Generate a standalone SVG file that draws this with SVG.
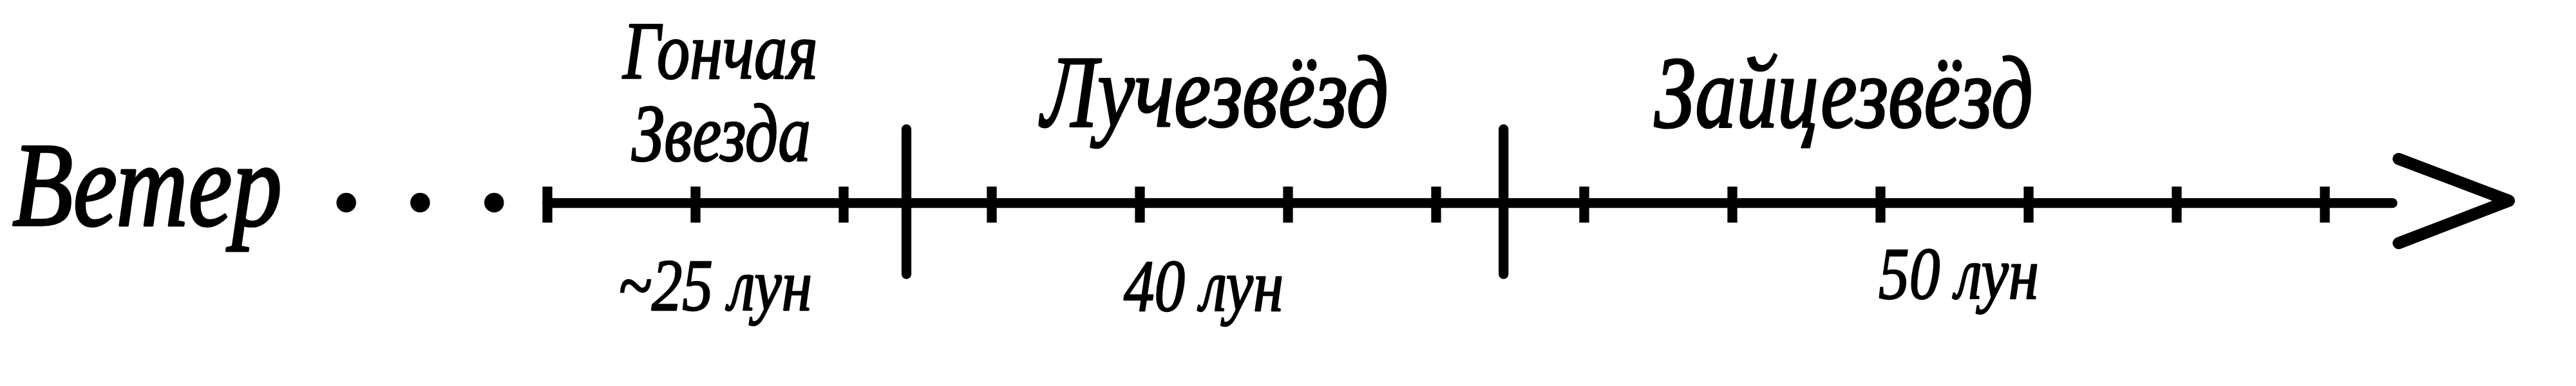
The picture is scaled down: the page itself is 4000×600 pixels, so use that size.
<svg xmlns="http://www.w3.org/2000/svg" width="4000" height="600" viewBox="0 0 4000 600">
  <style>
    .t { font-family: "Liberation Serif", "Times New Roman", serif; font-style: italic; fill: #000; stroke: #000; stroke-linejoin: round; }
    .tick { stroke: #000; stroke-width: 15.3; stroke-linecap: butt; }
    .div { stroke: #000; stroke-width: 15.3; stroke-linecap: round; }
    .dot { fill: #000; }
  </style>
  <rect x="0" y="0" width="4000" height="600" fill="#fff"/>
  <g id="connectors">
    <line x1="850" y1="315.7" x2="3715" y2="315.7" stroke="#000" stroke-width="15.3" stroke-linecap="round"/>
    <polyline points="3724.5,247 3896,312 3724.5,378" fill="none" stroke="#000" stroke-width="18.5" stroke-linecap="round" stroke-linejoin="round"/>
  </g>
  <g id="ticks">
    <line class="tick" x1="850" y1="290" x2="850" y2="346"/>
    <line class="tick" x1="1080" y1="290" x2="1080" y2="346"/>
    <line class="tick" x1="1310" y1="290" x2="1310" y2="346"/>
    <line class="tick" x1="1540" y1="290" x2="1540" y2="346"/>
    <line class="tick" x1="1770" y1="290" x2="1770" y2="346"/>
    <line class="tick" x1="2000" y1="290" x2="2000" y2="346"/>
    <line class="tick" x1="2230" y1="290" x2="2230" y2="346"/>
    <line class="tick" x1="2460" y1="290" x2="2460" y2="346"/>
    <line class="tick" x1="2690" y1="290" x2="2690" y2="346"/>
    <line class="tick" x1="2920" y1="290" x2="2920" y2="346"/>
    <line class="tick" x1="3150" y1="290" x2="3150" y2="346"/>
    <line class="tick" x1="3380" y1="290" x2="3380" y2="346"/>
    <line class="tick" x1="3610" y1="290" x2="3610" y2="346"/>
  </g>
  <g id="dividers">
    <line class="div" x1="1407.5" y1="201" x2="1407.5" y2="426"/>
    <line class="div" x1="2334.7" y1="201" x2="2334.7" y2="426"/>
  </g>
  <g id="node-veter">
    <text class="t" x="19" y="350" font-size="186" stroke-width="3.6" textLength="419" lengthAdjust="spacingAndGlyphs">Ветер</text>
    <circle class="dot" cx="537.7" cy="315" r="15.3"/>
    <circle class="dot" cx="652.4" cy="315" r="15.3"/>
    <circle class="dot" cx="767.2" cy="315" r="15.3"/>
  </g>
  <g id="node-gonchaya">
    <text class="t" x="967" y="122" font-size="128" stroke-width="2.6" textLength="303" lengthAdjust="spacingAndGlyphs">Гончая</text>
    <text class="t" x="981" y="250" font-size="128" stroke-width="2.6" textLength="278" lengthAdjust="spacingAndGlyphs">Звезда</text>
    <text class="t" x="960" y="482" font-size="114" stroke-width="2.3" textLength="301" lengthAdjust="spacingAndGlyphs">~25 лун</text>
  </g>
  <g id="node-luchezvyozd">
    <text class="t" x="1617" y="196" font-size="158" stroke-width="3.1" textLength="539" lengthAdjust="spacingAndGlyphs">Лучезвёзд</text>
    <text class="t" x="1745" y="483" font-size="114" stroke-width="2.3" textLength="248" lengthAdjust="spacingAndGlyphs">40 лун</text>
  </g>
  <g id="node-zaytsezvyozd">
    <text class="t" x="2569" y="197" font-size="158" stroke-width="3.1" textLength="588" lengthAdjust="spacingAndGlyphs">Зайцезвёзд</text>
    <text class="t" x="2917" y="464" font-size="114" stroke-width="2.3" textLength="249" lengthAdjust="spacingAndGlyphs">50 лун</text>
  </g>
</svg>
